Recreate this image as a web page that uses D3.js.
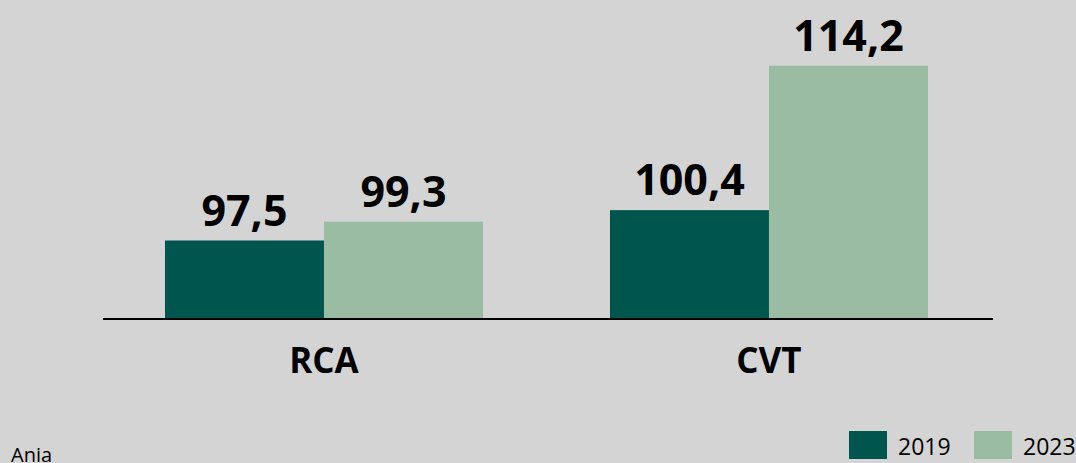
<!DOCTYPE html>
<html>
<head>
<meta charset="utf-8">
<script src="https://cdn.jsdelivr.net/npm/d3@7"></script>
<style>
  body { margin: 0; background: #d4d4d4; }
  svg { display: block; font-family: "Open Sans", sans-serif; }
</style>
</head>
<body>
<div class="chart"></div>
<script>
var categories = ["RCA", "CVT"];
var years = ["2019", "2023"];
var values2019 = [97.5, 100.4];
var values2023 = [99.3, 114.2];
var colors = ["#00554f", "#99bca2"];
var source = "Ania";

var width = 1076, height = 463;

var svg = d3.select(".chart").append("svg")
    .attr("width", width)
    .attr("height", height);

svg.append("rect")
    .attr("width", width)
    .attr("height", height)
    .attr("fill", "#d4d4d4");

var data = categories.map(function(c, i) {
  return {cat: c, vals: [values2019[i], values2023[i]]};
});

var x0 = d3.scaleBand()
    .domain(categories)
    .range([103, 993])
    .paddingInner(0.2854)
    .paddingOuter(0.1427)
    .align(0.488);

var x1 = d3.scaleBand()
    .domain(years)
    .range([0, x0.bandwidth()]);

var y = d3.scaleLinear()
    .domain([90, 120])
    .range([319, 5]);

var fmt = function(v) { return d3.format(".1f")(v).replace(".", ","); };

var groups = svg.selectAll(".grp")
    .data(data)
    .enter().append("g")
    .attr("class", "grp")
    .attr("transform", function(d) { return "translate(" + x0(d.cat) + ",0)"; });

groups.selectAll("rect")
    .data(function(d) { return d.vals.map(function(v, i) { return {year: years[i], v: v, i: i}; }); })
    .enter().append("rect")
    .attr("x", function(d) { return x1(d.year); })
    .attr("width", x1.bandwidth())
    .attr("y", function(d) { return y(d.v); })
    .attr("height", function(d) { return y(90) - y(d.v); })
    .attr("fill", function(d) { return colors[d.i]; });

groups.selectAll(".val")
    .data(function(d) { return d.vals.map(function(v, i) { return {year: years[i], v: v}; }); })
    .enter().append("text")
    .attr("class", "val")
    .attr("x", function(d) { return x1(d.year) + x1.bandwidth() / 2; })
    .attr("y", function(d) { return y(d.v) - 15; })
    .attr("text-anchor", "middle")
    .style("font-size", "43px")
    .style("font-weight", 700)
    .attr("fill", "#000")
    .text(function(d) { return fmt(d.v); });

// axis line at base
svg.append("line")
    .attr("x1", 103).attr("x2", 993)
    .attr("y1", y(90)).attr("y2", y(90))
    .attr("stroke", "#000")
    .attr("stroke-width", 2);

var xAxis = d3.axisBottom(x0).tickSize(0).tickPadding(0);
var gx = svg.append("g")
    .attr("transform", "translate(0," + y(90) + ")")
    .call(xAxis);
gx.select(".domain").remove();
gx.selectAll("text")
    .attr("dy", null)
    .attr("y", 54)
    .style("font-family", "'Open Sans', sans-serif")
    .style("font-size", "35px")
    .style("font-weight", 700)
    .attr("fill", "#000");

// legend
var legX = [849, 974];
years.forEach(function(yr, i) {
  svg.append("rect")
      .attr("x", legX[i]).attr("y", 431)
      .attr("width", 38).attr("height", 28)
      .attr("fill", colors[i]);
  svg.append("text")
      .attr("x", legX[i] + 49).attr("y", 455)
      .style("font-size", "23px")
      .attr("fill", "#000")
      .text(yr);
});

svg.append("text")
    .attr("x", 11).attr("y", 462)
    .style("font-size", "20px")
    .attr("fill", "#000")
    .text(source);
</script>
</body>
</html>
